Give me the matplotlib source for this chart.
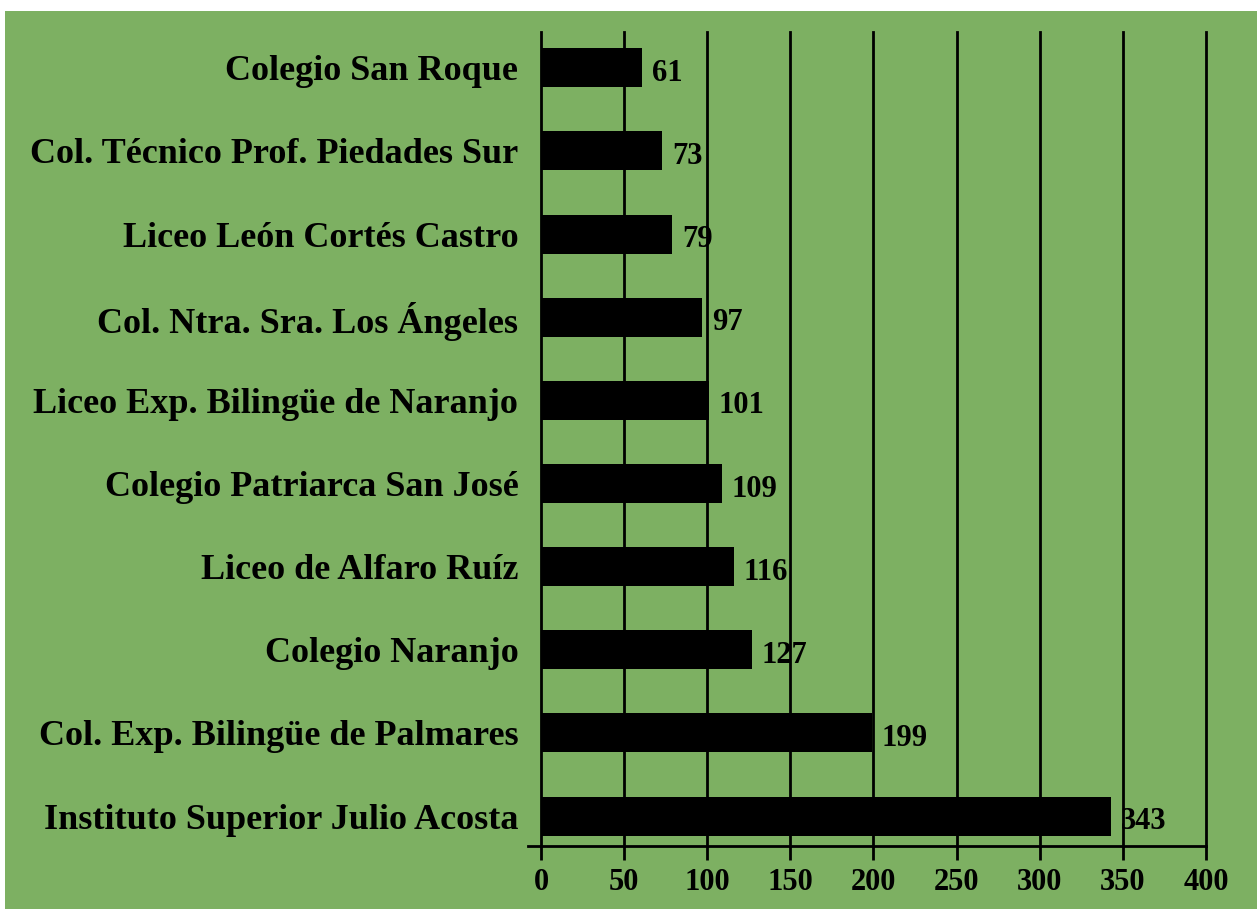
import numpy as np
import matplotlib.pyplot as plt
from matplotlib.patches import Rectangle

schools = [
    'Instituto Superior Julio Acosta',
    'Col. Exp. Bilingüe de Palmares',
    'Colegio Naranjo',
    'Liceo de Alfaro Ruíz',
    'Colegio Patriarca San José',
    'Liceo Exp. Bilingüe de Naranjo',
    'Col. Ntra. Sra. Los Ángeles',
    'Liceo León Cortés Castro',
    'Col. Técnico Prof. Piedades Sur',
    'Colegio San Roque',
]
counts = [343, 199, 127, 116, 109, 101, 97, 79, 73, 61]
xticks = [0, 50, 100, 150, 200, 250, 300, 350, 400]

green = '#7db062'
plt.rcParams['font.family'] = ['Liberation Serif', 'DejaVu Serif']
plt.rcParams['font.weight'] = 'bold'

fig = plt.figure(figsize=(12.57, 9.09), dpi=100, facecolor='white')
fig.patches.append(Rectangle((5 / 1257, 0), 1, 1 - 11 / 909,
                             transform=fig.transFigure, facecolor=green,
                             edgecolor='none', zorder=-10))

ax = fig.add_axes([528 / 1257, 1 - 846 / 909, (1206 - 528) / 1257, (846 - 32) / 909])
ax.set_facecolor('none')
y = np.arange(len(schools))
ax.barh(y, counts, height=0.47, color='black', zorder=3)
for yi, c in zip(y, counts):
    ax.annotate(str(c), (c, yi), xytext=(7, -4), textcoords='offset points',
                va='center', ha='left', fontsize=22, fontweight='bold', zorder=4)

for t in xticks:
    ax.axvline(t, color='black', lw=2, zorder=1, clip_on=False)

ax.set_xlim(-7.8, 400)
ax.set_ylim(-0.36, 9.43)
ax.set_xticks(xticks)
ax.set_xticklabels([str(t) for t in xticks], fontsize=22, fontweight='bold')
ax.set_yticks(y)
ax.set_yticklabels(schools, fontsize=26, fontweight='bold')
ax.tick_params(axis='x', direction='out', length=10, width=2, pad=6)
ax.tick_params(axis='y', length=0, pad=7)
for s in ['top', 'right', 'left']:
    ax.spines[s].set_visible(False)
ax.spines['bottom'].set_linewidth(2)

fig.savefig('out.png', dpi=100, facecolor='white')
